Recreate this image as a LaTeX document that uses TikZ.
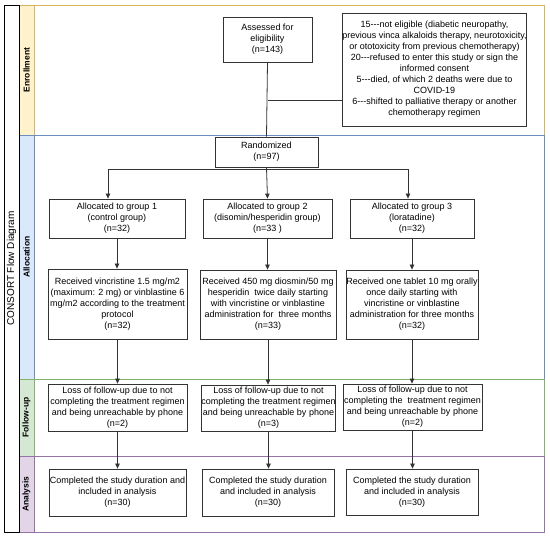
\documentclass[tikz,border=0pt]{standalone}
\usepackage{fontspec}
\setmainfont{Liberation Sans}
\usetikzlibrary{arrows.meta,calc}
\definecolor{yfill}{HTML}{FFF2CC}\definecolor{yline}{HTML}{D6B656}
\definecolor{bfill}{HTML}{DAE8FC}\definecolor{bline}{HTML}{6C8EBF}
\definecolor{gfill}{HTML}{D5E8D4}\definecolor{gline}{HTML}{82B366}
\definecolor{pfill}{HTML}{E1D5E7}\definecolor{pline}{HTML}{9673A6}
\definecolor{ink}{HTML}{333333}
\newcommand{\hy}{\mbox{-}\mbox{-}\mbox{-}}
\begin{document}
\begin{tikzpicture}[x=1pt,y=-1pt,
  box/.style={draw=ink,line width=0.8pt,fill=white,align=center,inner sep=0pt,font=\fontsize{9}{11}\selectfont},
  arr/.style={draw=ink,line width=0.8pt,-{Triangle[length=5pt,width=4.5pt]}},
  ln/.style={draw=ink,line width=0.8pt},
  lanelabel/.style={rotate=90,font=\fontsize{8.5}{10}\selectfont\bfseries,inner sep=0pt},
  lane/.style={line width=0.8pt}]
\useasboundingbox (0,0) rectangle (550,537);
% lanes
\draw[lane,draw=yline] (19,5) rectangle (544,135);
\filldraw[lane,fill=yfill,draw=yline] (19,5) rectangle (34,135);
\draw[lane,draw=bline] (19,135) rectangle (544,379);
\filldraw[lane,fill=bfill,draw=bline] (19,135) rectangle (34,379);
\draw[lane,draw=gline] (19,379) rectangle (544,456);
\filldraw[lane,fill=gfill,draw=gline] (19,379) rectangle (34,456);
\draw[lane,draw=pline] (19,456) rectangle (544,532);
\filldraw[lane,fill=pfill,draw=pline] (19,456) rectangle (34,532);
\draw[black,line width=0.8pt] (4,5) rectangle (19,532);
\node[rotate=90,font=\fontsize{10}{12}\selectfont,inner sep=0pt] (pool) at (11.5,268.5) {CONSORT Flow Diagram};
\node[lanelabel] (l1) at (26.5,70) {Enrollment};
\node[lanelabel] (l2) at (26.5,257) {Allocation};
\node[lanelabel] (l3) at (26.5,417.5) {Follow-up};
\node[lanelabel] (l4) at (26.5,494) {Analysis};
% nodes
\node[box,minimum width=89pt,minimum height=45pt] (assess) at (267.5,39.5) {Assessed for\\eligibility\\(n=143)};
\node[box,minimum width=183pt,minimum height=113pt] (excl) at (434.5,69.5) {15\hy not eligible (diabetic neuropathy,\\previous vinca alkaloids therapy, neurotoxicity,\\or ototoxicity from previous chemotherapy)\\20\hy refused to enter this study or sign the\\informed consent\\5\hy died, of which 2 deaths were due to\\COVID-19\\6\hy shifted to palliative therapy or another\\chemotherapy regimen};
\node[box,minimum width=103pt,minimum height=30pt] (rand) at (266.5,152) {Randomized\\(n=97)};
\node[box,minimum width=136pt,minimum height=39pt] (g1) at (117,218.5) {Allocated to group 1\\(control group)\\(n=32)};
\node[box,minimum width=129pt,minimum height=39pt] (g2) at (267.5,218.5) {Allocated to group 2\\(disomin/hesperidin group)\\(n=33 )};
\node[box,minimum width=124pt,minimum height=39pt] (g3) at (412,218.5) {Allocated to group 3\\(loratadine)\\(n=32)};
\node[box,minimum width=139pt,minimum height=70pt] (t1) at (117.5,304) {Received vincristine 1.5 mg/m2\\(maximum: 2 mg) or vinblastine 6\\mg/m2 according to the treatment\\protocol\\(n=32)};
\node[box,minimum width=136pt,minimum height=69pt] (t2) at (268,304.5) {Received 450 mg diosmin/50 mg\\hesperidin\ \ twice daily starting\\with vincristine or vinblastine\\administration for\ \ three months\\(n=33)};
\node[box,minimum width=132pt,minimum height=69pt] (t3) at (412,304.5) {Received one tablet 10 mg orally\\once daily starting with\\vincristine or vinblastine\\administration for three months\\(n=32)};
\node[box,minimum width=139pt,minimum height=47pt] (f1) at (117.5,407.5) {Loss of follow-up due to not\\completing the treatment regimen\\and being unreachable by phone\\(n=2)};
\node[box,minimum width=133pt,minimum height=46pt] (f2) at (268.5,408) {Loss of follow-up due to not\\completing the treatment regimen\\and being unreachable by phone\\(n=3)};
\node[box,minimum width=139pt,minimum height=46pt] (f3) at (412.5,407) {Loss of follow-up due to not\\completing the\ \ treatment regimen\\and being unreachable by phone\\(n=2)};
\node[box,minimum width=137pt,minimum height=47pt] (a1) at (117.5,492.5) {Completed the study duration and\\included in analysis\\(n=30)};
\node[box,minimum width=132pt,minimum height=47pt] (a2) at (268,492.5) {Completed the study duration\\and included in analysis\\(n=30)};
\node[box,minimum width=132pt,minimum height=46pt] (a3) at (412,492) {Completed the study duration\\and included in analysis\\(n=30)};
% connectors
\draw[ln] (assess.south) -- (rand.north);
\coordinate (br) at (268,100);
\draw[ln] (br) -- (br -| excl.west);
\coordinate (hb) at (268,169.5);
\draw[arr] (rand.south) -- (g2.north);
\draw[arr] (hb) -| ($(g1.north)+(-9,0)$);
\draw[arr] (hb) -| ($(g3.north)+(-4,0)$);
\draw[arr] (g1.south) -- (g1.south |- t1.north);
\draw[arr] (g2.south) -- (g2.south |- t2.north);
\draw[arr] (g3.south) -- (g3.south |- t3.north);
\draw[arr] (t1.south) -- (t1.south |- f1.north);
\draw[arr] (t2.south) -- (t2.south |- f2.north);
\draw[arr] (t3.south) -- (t3.south |- f3.north);
\draw[arr] (f1.south) -- (f1.south |- a1.north);
\draw[arr] (f2.south) -- (f2.south |- a2.north);
\draw[arr] (f3.south) -- (f3.south |- a3.north);
\end{tikzpicture}
\end{document}
